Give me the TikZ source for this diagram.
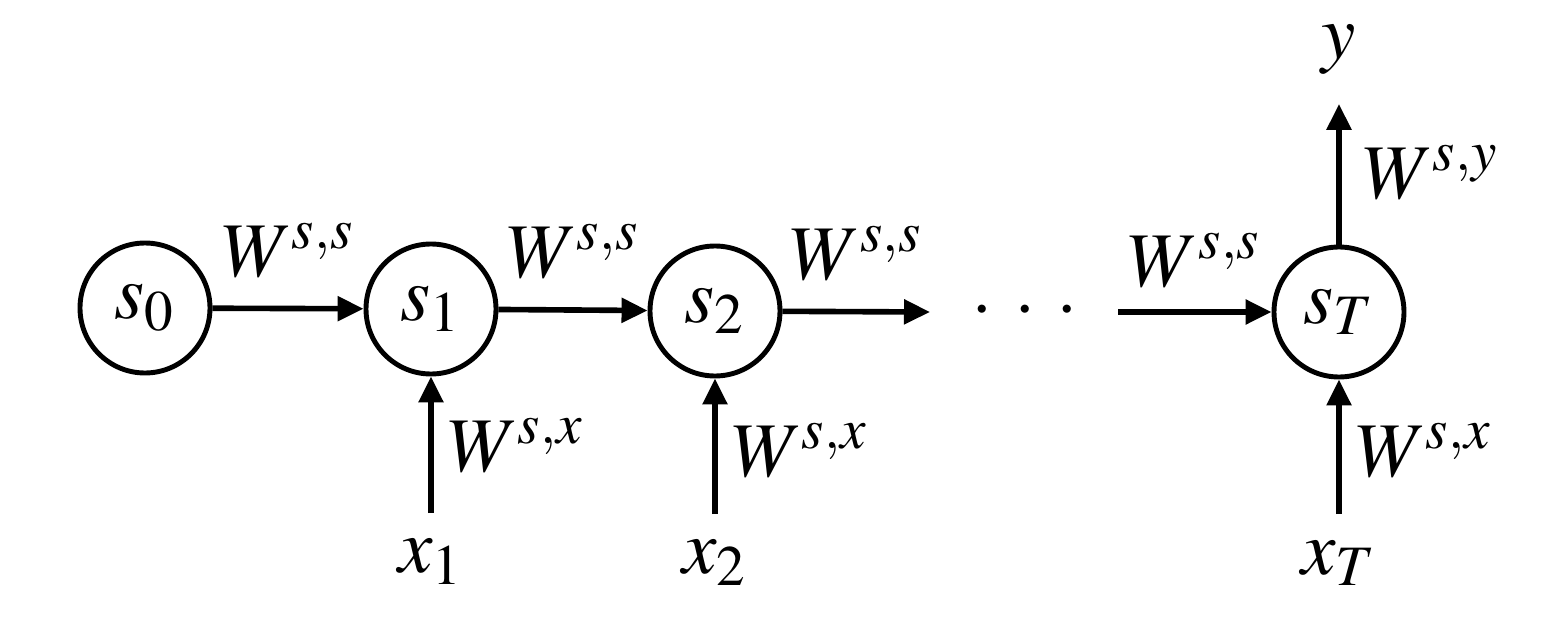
\documentclass[tikz,border=0pt]{standalone}
\usepackage{mathptmx}
\usetikzlibrary{arrows.meta}

\tikzset{
    state/.style={circle, draw, line width=1.4pt, minimum size=1.3cm,
        inner sep=0pt, font=\fontsize{22}{26}\selectfont},
    link/.style={-{Triangle[length=0.26cm, width=0.24cm]}, line width=1.6pt},
    wlabel/.style={font=\fontsize{22}{26}\selectfont, inner sep=1pt},
    term/.style={font=\fontsize{22}{26}\selectfont, inner sep=1pt}
}

\begin{document}
\begin{tikzpicture}
    \useasboundingbox (0,0) rectangle (15.55,6.2);

    % States
    \node[state] (s0) at (1.45,3.12) {$s_0$};
    \node[state] (s1) at (4.31,3.11) {$s_1$};
    \node[state] (s2) at (7.15,3.09) {$s_2$};
    \node[state] (sT) at (13.39,3.08) {$s_T$};

    % Gap in the chain
    \coordinate (gapin) at (9.30,3.08);
    \coordinate (gapout) at (11.18,3.08);
    \node[term] (dots) at (10.25,3.08)
        {$\cdotp\mkern3mu\cdotp\mkern3mu\cdotp$};

    % Inputs and output
    \node[term] (x1) at (4.31,0.58) {$x_1$};
    \node[term] (x2) at (7.15,0.57) {$x_2$};
    \node[term] (xT) at (13.39,0.57) {$x_T$};
    \node[term] (y) at (13.39,5.70) {$y$};

    % Recurrent links
    \draw[link] (s0) -- (s1)
        node[midway, above, wlabel, yshift=7pt] {$W^{s,s}$};
    \draw[link] (s1) -- (s2)
        node[midway, above, wlabel, yshift=7pt] {$W^{s,s}$};
    \draw[link] (s2) -- (gapin)
        node[midway, above, wlabel, yshift=7pt] {$W^{s,s}$};
    \draw[link] (gapout) -- (sT)
        node[midway, above, wlabel, yshift=5pt] {$W^{s,s}$};

    % Input links
    \draw[link, shorten <=0.22cm] (x1) -- (s1)
        node[midway, right, wlabel, xshift=3pt, yshift=3pt] {$W^{s,x}$};
    \draw[link, shorten <=0.22cm] (x2) -- (s2)
        node[midway, right, wlabel, xshift=3pt, yshift=2pt] {$W^{s,x}$};
    \draw[link, shorten <=0.22cm] (xT) -- (sT)
        node[midway, right, wlabel, xshift=3pt, yshift=2pt] {$W^{s,x}$};

    % Output link
    \draw[link, shorten >=0.25cm] (sT) -- (y)
        node[midway, right, wlabel, xshift=5pt, yshift=-3pt] {$W^{s,y}$};

\end{tikzpicture}
\end{document}
